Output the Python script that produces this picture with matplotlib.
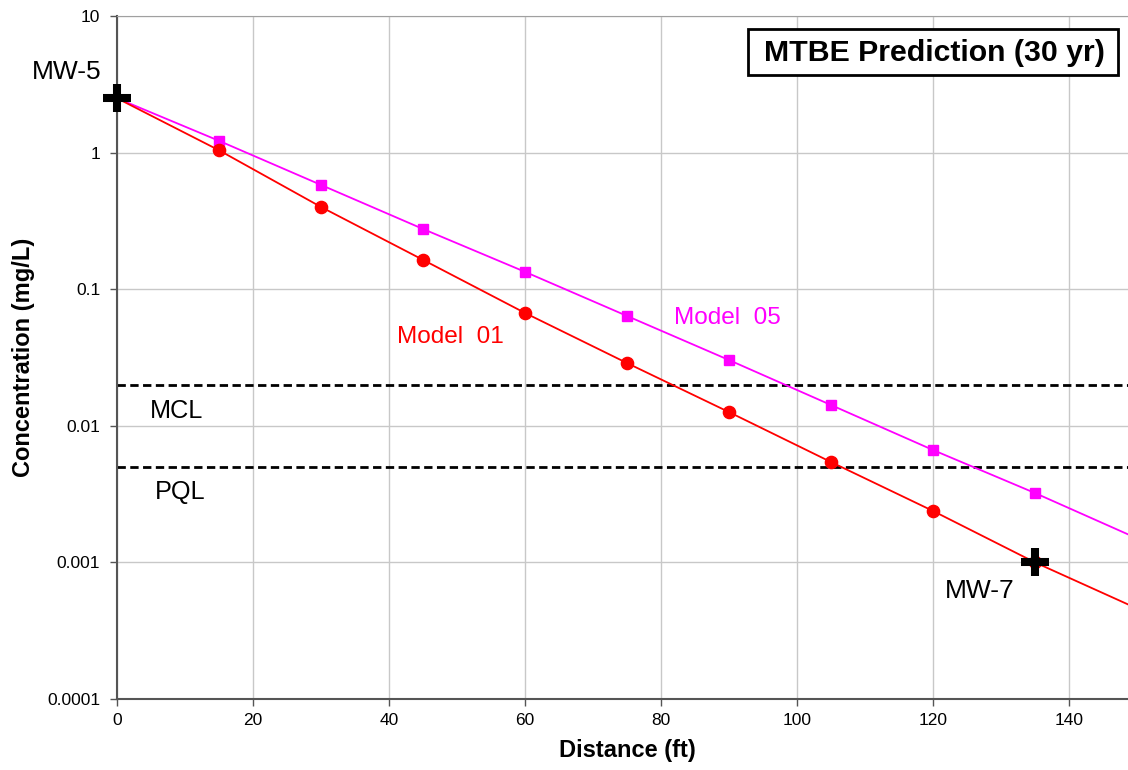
import matplotlib
matplotlib.use("Agg")
import matplotlib.pyplot as plt
from matplotlib.patches import Rectangle
import numpy as np

plt.rcParams['font.family'] = ['Liberation Sans', 'DejaVu Sans']

distance = [0, 15, 30, 45, 60, 75, 90, 105, 120, 135, 150]
model01 = [2.5, 1.04, 0.40, 0.164, 0.067, 0.0288, 0.0126, 0.00543, 0.00238, 0.00100, 0.00046]
model05 = [2.5, 1.22, 0.58, 0.276, 0.134, 0.0637, 0.0303, 0.0142, 0.00665, 0.00322, 0.00150]
mcl = 0.02
pql = 0.005
wells_x = [0, 135]
wells_y = [2.5, 0.001]
well_names = ["MW-5", "MW-7"]

W, H = 1128, 770
fig = plt.figure(figsize=(W / 100, H / 100), dpi=100)
ax = fig.add_axes([117/W, 71/H, 1020/W, 683/H])

ax.set_yscale('log')
ax.set_xlim(0, 150)
ax.set_ylim(1e-4, 10)

ax.grid(True, which='major', color='#c8c8c8', linewidth=1)
ax.set_axisbelow(True)
ax.spines['right'].set_visible(False)
ax.spines['top'].set_color('#a0a0a0')
ax.spines['left'].set_color('#555555')
ax.spines['bottom'].set_color('#555555')
ax.spines['left'].set_linewidth(1.5)
ax.spines['bottom'].set_linewidth(1.5)

ax.axhline(mcl, color='black', linestyle=(0, (3, 1.6)), linewidth=2, zorder=2)
ax.axhline(pql, color='black', linestyle=(0, (3, 1.6)), linewidth=2, zorder=2)

mk = list(range(1, 10))
ax.plot(distance, model05, color='#ff00ff', linewidth=1.3, marker='s', markersize=7,
        markevery=mk, zorder=3)
ax.plot(distance, model01, color='#ff0000', linewidth=1.3, marker='o', markersize=8.8,
        markevery=mk, zorder=3)

ax.scatter(wells_x, wells_y, marker='+', s=420, linewidths=5.8, color='black', zorder=6, clip_on=False)

ax.set_xticks(np.arange(0, 141, 20))
ax.set_yticks([1e-4, 1e-3, 1e-2, 1e-1, 1, 10])
ax.set_yticklabels(['0.0001', '0.001', '0.01', '0.1', '1', '10'])
ax.yaxis.set_minor_locator(matplotlib.ticker.NullLocator())
ax.tick_params(axis='both', direction='out', length=5, width=1, color='#555555',
               labelsize=12.5)
ax.tick_params(axis='y', pad=7)
ax.tick_params(axis='x', pad=5)

ax.set_xlabel('Distance (ft)', fontsize=17, fontweight='bold', labelpad=8)
ax.set_ylabel('Concentration (mg/L)', fontsize=17, fontweight='bold', labelpad=9)

ax.text(-7.4, 3.9, well_names[0], fontsize=19, ha='center', va='center', clip_on=False)
ax.text(126.9, 0.00062, well_names[1], fontsize=19, ha='center', va='center')
ax.text(8.8, 0.0128, 'MCL', fontsize=18.2, ha='center', va='center')
ax.text(9.3, 0.00325, 'PQL', fontsize=18.2, ha='center', va='center')
ax.text(49.1, 0.0447, 'Model  01', fontsize=17.6, ha='center', va='center', color='#ff0000')
ax.text(89.8, 0.0615, 'Model  05', fontsize=17.6, ha='center', va='center', color='#ff00ff')

fig.patches.append(Rectangle((748/W, 1 - 75/H), 370/W, 46/H, transform=fig.transFigure,
                             facecolor='white', edgecolor='black', linewidth=2, zorder=10))
fig.text(934/W, 1 - 53/H, 'MTBE Prediction (30 yr)', fontsize=21.8, fontweight='bold',
         ha='center', va='center', zorder=11)

fig.savefig('out.png', dpi=100)
